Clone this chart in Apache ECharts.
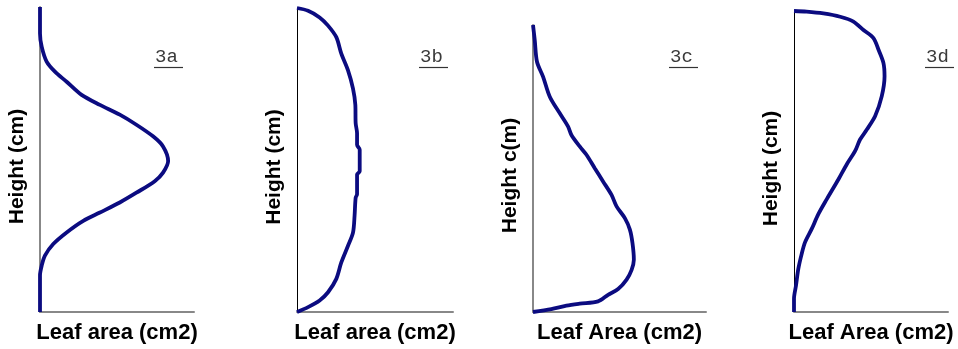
<!DOCTYPE html>
<html>
<head>
<meta charset="utf-8">
<script src="https://cdn.jsdelivr.net/npm/echarts@6/dist/echarts.min.js"></script>
<style>html,body{margin:0;padding:0;background:#fff}#c{width:958px;height:349px}</style>
</head>
<body>
<div id="c"></div>
<script>
// Panel labels
var panelLabels = ['3a', '3b', '3c', '3d'];
var xAxisNames = ['Leaf area (cm2)', 'Leaf area (cm2)', 'Leaf Area (cm2)', 'Leaf Area (cm2)'];
var yAxisNames = ['Height (cm)', 'Height (cm)', 'Height c(m)', 'Height (cm)'];

// Each series: [leaf area (% of axis), height (% of axis)]
var seriesA = [[0,100],[0,91.3],[1.1,87.0],[4.3,82.1],[9.7,78.8],[17.3,75.5],[27.0,71.2],[38.9,67.9],[51.8,64.7],[62.6,61.4],[73.4,57.6],[79.9,54.3],[83.2,49.5],[79.9,45.7],[74.5,42.9],[62.6,39.1],[51.8,35.9],[38.9,32.6],[28.1,29.9],[17.3,26.1],[8.6,22.3],[3.2,18.5],[1.1,15.2],[0,12.0],[0,0]];
var seriesB = [[0,100],[7.1,99.1],[14.5,96.9],[19.9,94.2],[25.2,90.4],[28.4,85.0],[32.7,79.5],[35.9,73.5],[37.4,68.1],[37.6,62.1],[38.5,58.8],[38.5,55.0],[40.2,53.4],[40.2,46.3],[38.5,45.2],[38.5,38.7],[37.6,37.6],[36.9,31.6],[35.9,26.1],[32.7,21.8],[28.4,16.3],[25.2,10.9],[19.9,6.5],[14.5,3.8],[7.1,1.6],[0,0]];
var seriesC = [[0,100],[1.0,94.8],[2.3,87.2],[5.8,82.0],[9.7,75.0],[15.4,69.3],[20.3,64.6],[22.2,61.7],[27.0,57.7],[30.9,54.8],[35.7,50.1],[40.5,45.5],[45.4,40.8],[48.3,36.8],[53.1,32.7],[56.0,28.7],[57.5,24.0],[58.3,18.2],[57.0,14.7],[54.1,11.3],[49.2,8.0],[43.4,6.0],[37.6,3.7],[27.0,2.9],[19.3,2.2],[10.6,1.0],[0,0]];
var seriesD = [[0,100],[8.2,99.8],[19.1,99.2],[30.0,98.1],[38.6,96.5],[45.1,93.7],[51.6,91.0],[54.9,87.1],[58.1,82.7],[58.8,78.3],[57.0,71.7],[52.7,65.1],[47.3,60.6],[42.9,57.3],[39.7,53.5],[34.3,49.1],[28.9,44.1],[21.3,37.5],[15.8,32.5],[11.5,27.6],[7.2,23.2],[5.0,19.3],[2.8,14.3],[1.3,8.8],[0,4.4],[0,0]];

var allSeries = [seriesA, seriesB, seriesC, seriesD];

// layout (styling only)
var grids = [
  {left: 40, top: 7, width: 154, height: 306},
  {left: 297, top: 8, width: 156, height: 305},
  {left: 533, top: 25, width: 173, height: 287},
  {left: 794, top: 11, width: 154, height: 302}
];
var yAxisColor = ['#888888', '#000000', '#888888', '#000000'];
var yAxisWidth = [2, 1, 2, 1];
var labelPos = [{x: 155, y: 47}, {x: 420, y: 47}, {x: 670, y: 47}, {x: 926, y: 47}];

var option = {
  animation: false,
  backgroundColor: '#ffffff',
  grid: grids,
  title: panelLabels.map(function (t, i) {
    return {text: t, left: labelPos[i].x, top: labelPos[i].y, padding: 0,
      textStyle: {fontFamily: 'Liberation Mono', fontWeight: 'normal', fontSize: 19, color: '#3a3a3a'}};
  }),
  graphic: panelLabels.map(function (t, i) {
    return {type: 'line', shape: {x1: labelPos[i].x - 1, y1: 67.5, x2: labelPos[i].x + 28, y2: 67.5},
      style: {stroke: '#333333', lineWidth: 1.2}};
  }),
  xAxis: allSeries.map(function (s, i) {
    return {type: 'value', gridIndex: i, min: 0, max: 100,
      name: xAxisNames[i], nameLocation: 'middle', nameGap: 10,
      nameTextStyle: {fontFamily: 'Liberation Sans', fontWeight: 'bold', fontSize: 22, color: '#000', verticalAlign: 'top'},
      axisLine: {show: true, lineStyle: {color: '#888888', width: 2}},
      axisTick: {show: false}, axisLabel: {show: false}, splitLine: {show: false}};
  }),
  yAxis: allSeries.map(function (s, i) {
    return {type: 'value', gridIndex: i, min: 0, max: 100,
      name: yAxisNames[i], nameLocation: 'middle', nameGap: 12,
      nameTextStyle: {fontFamily: 'Liberation Sans', fontWeight: 'bold', fontSize: 21, color: '#000', padding: [0, 14, 0, 0]},
      axisLine: {show: true, lineStyle: {color: yAxisColor[i], width: yAxisWidth[i]}},
      axisTick: {show: false}, axisLabel: {show: false}, splitLine: {show: false}};
  }),
  series: allSeries.map(function (s, i) {
    return {type: 'line', xAxisIndex: i, yAxisIndex: i, data: s, showSymbol: false,
      smooth: 0.3, lineStyle: {color: '#0b0b80', width: 3.8}, z: 5};
  })
};

var chart = echarts.init(document.getElementById('c'), null, {renderer: 'canvas'});
chart.setOption(option);
</script>
</body>
</html>
